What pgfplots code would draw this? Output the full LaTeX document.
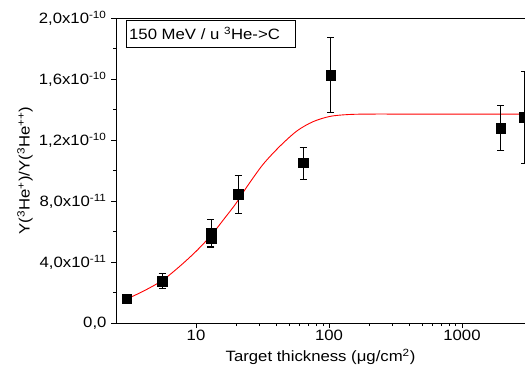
\documentclass[border=0pt]{standalone}
\usepackage{pgfplots}
\pgfplotsset{compat=1.18}
\usetikzlibrary{calc}
\usepackage{fontspec}
\setmainfont{Liberation Sans}[FakeStretch=1.12]
\newcommand{\tl}[1]{\textnormal{#1}}
\begin{document}
\begin{tikzpicture}
\begin{axis}[
  scale only axis,
  width=409bp, height=305bp,
  xmode=log,
  xmin=2.5, xmax=2980,
  ymin=0, ymax=2.0e-10,
  axis x line*=box,
  axis y line*=left,
  tick align=outside,
  xtick pos=bottom,
  ytick pos=left,
  xtick={10,100,1000},
  xticklabels={\tl{10},\tl{100},\tl{1000}},
  ytick={0,4e-11,8e-11,1.2e-10,1.6e-10,2.0e-10},
  yticklabels={{\tl{0,0}}, {\tl{4,0x10\textsuperscript{-11}}}, {\tl{8,0x10\textsuperscript{-11}}}, {\tl{1,2x10\textsuperscript{-10}}}, {\tl{1,6x10\textsuperscript{-10}}}, {\tl{2,0x10\textsuperscript{-10}}}},
  minor ytick={2e-11,6e-11,1e-10,1.4e-10,1.8e-10},
  scaled y ticks=false,
  major tick length=5bp,
  minor tick length=3bp,
  tick style={black, line width=0.8pt},
  axis line style={line width=0.9pt},
  every tick label/.append style={font=\fontsize{15}{17}\selectfont},
  xticklabel style={yshift=1bp},
  yticklabel style={xshift=-1bp},
  xlabel={Target thickness (μg/cm\textsuperscript{2})},
  ylabel={Y(\textsuperscript{3}He\textsuperscript{+})/Y(\textsuperscript{3}He\textsuperscript{++})},
  every axis x label/.style={at={(rel axis cs:0.5,0)}, yshift=-34bp, anchor=center, font=\fontsize{15}{17}\selectfont},
  every axis y label/.style={at={(rel axis cs:0,0.5)}, xshift=-91bp, rotate=90, anchor=center, font=\fontsize{15}{17}\selectfont},
  clip=false,
]
\addplot[red, line width=0.9pt, smooth] coordinates {
 (3.0,1.57e-11) (4,2.08e-11) (5.55,2.78e-11) (7.5,3.7e-11) (10,4.7e-11) (13,5.75e-11)
 (16,6.75e-11) (20,7.85e-11) (24.2,8.95e-11) (31.9,10.4e-11) (42.8,11.6e-11)
 (57.5,12.6e-11) (75.8,13.2e-11) (102,13.55e-11) (140,13.67e-11) (200,13.70e-11)
 (400,13.70e-11) (1000,13.70e-11) (2980,13.70e-11)
};
\addplot[only marks, mark=square*, mark size=4.8bp, black,
  error bars/.cd, y dir=both, y explicit,
  error bar style={black, line width=0.7pt},
  error mark options={rotate=90, mark size=3.5bp, black, line width=0.7pt}]
 coordinates {
 (3.0,1.6e-11) +- (0,0.1e-11)
 (5.55,2.75e-11) +- (0,0.5e-11)
 (12.95,5.9e-11) +- (0,0.9e-11)
 (12.95,5.55e-11) +- (0,0.6e-11)
 (20.7,8.46e-11) +- (0,1.25e-11)
 (63.8,10.5e-11) +- (0,1.05e-11)
 (103,16.26e-11) +- (0,2.45e-11)
 (1960,12.79e-11) +- (0,1.5e-11)
 (2950,13.5e-11) +- (0,3.0e-11)
};
\node[draw, line width=0.6pt, anchor=north west, inner sep=0pt,
  minimum width=169bp, minimum height=27bp] (box) at (rel axis cs:0.0244,0.9934) {};
\node[anchor=west, inner sep=0pt, font=\fontsize{15}{17}\selectfont] at ([xshift=3bp]box.west)
  {150 MeV / u \textsuperscript{3}He->C};
\coordinate (LL) at (rel axis cs:0,0);
\coordinate (UR) at (rel axis cs:1,1);
\end{axis}
\pgfresetboundingbox
\useasboundingbox ($(LL)+(-116bp,-46bp)$) rectangle ($(UR)+(0,18bp)$);
\end{tikzpicture}
\end{document}
